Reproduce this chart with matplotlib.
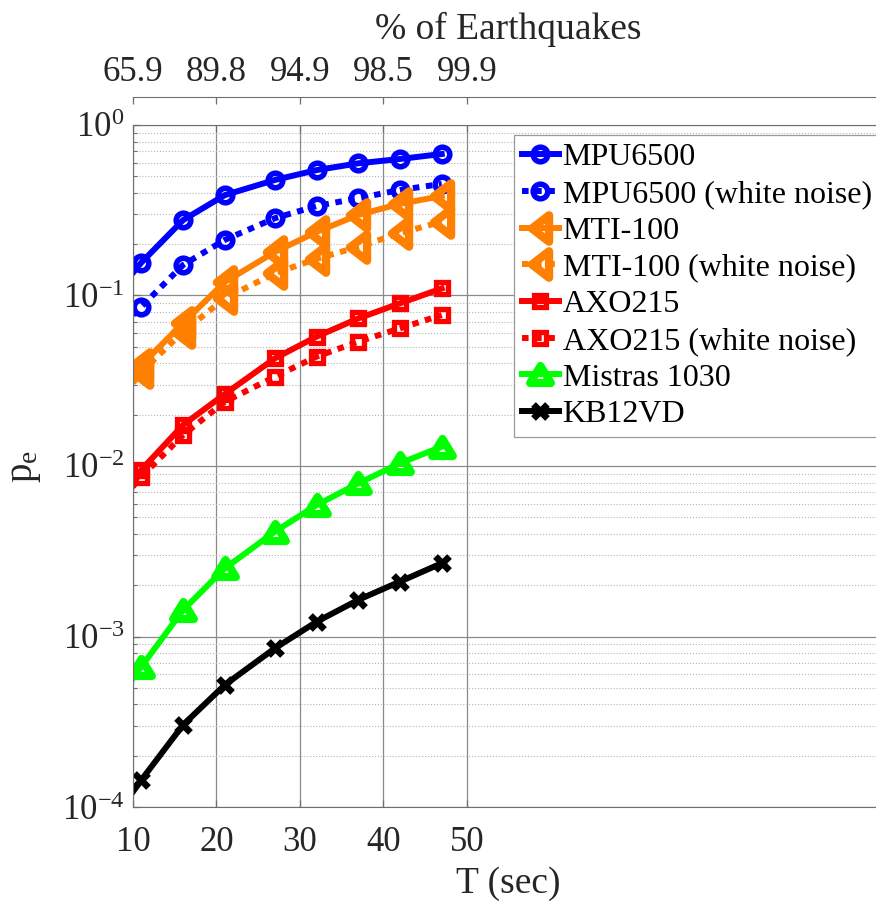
import matplotlib
matplotlib.use("Agg")
from matplotlib import pyplot as plt
from matplotlib.path import Path
from matplotlib.ticker import FixedLocator, LogLocator, NullFormatter

plt.rcParams['font.family'] = ['Liberation Serif', 'DejaVu Serif']
plt.rcParams['mathtext.fontset'] = 'custom'
plt.rcParams['mathtext.rm'] = 'Liberation Serif'
plt.rcParams['mathtext.default'] = 'regular'
plt.rcParams['axes.unicode_minus'] = False

# data (first point at T=10 has no marker)
T = [10, 11, 16, 21, 27, 32, 37, 42, 47]
mpu = [0.136, 0.156, 0.277, 0.388, 0.476, 0.544, 0.596, 0.632, 0.676]
mpu_wn = [0.077, 0.086, 0.151, 0.212, 0.284, 0.335, 0.372, 0.416, 0.451]
mti = [0.0357, 0.0391, 0.069, 0.120, 0.180, 0.236, 0.297, 0.345, 0.383]
mti_wn = [0.0307, 0.0356, 0.0613, 0.0962, 0.135, 0.164, 0.193, 0.232, 0.271]
axo = [0.0077, 0.0095, 0.0174, 0.0264, 0.0428, 0.0574, 0.0734, 0.090, 0.110]
axo_wn = [0.0076, 0.00865, 0.0152, 0.0238, 0.0334, 0.0438, 0.0536, 0.0642, 0.0769]
mistras = [0.000569, 0.000665, 0.00143, 0.00251, 0.00412, 0.00590, 0.00791, 0.01038, 0.01298]
kb = [0.000123, 0.000144, 0.000303, 0.000520, 0.000853, 0.00122, 0.00164, 0.00210, 0.00269]

x_ticks = [10, 20, 30, 40, 50]
pct_labels = ["65.9", "89.8", "94.9", "98.5", "99.9"]

ORANGE = (1.0, 0.5, 0.0)
tri_left = Path([(-0.65, 0), (0.65, 1), (0.65, -1), (-0.65, 0)], closed=True)
tri_up = Path([(0, 0.82), (-1, -0.82), (1, -0.82), (0, 0.82)], closed=True)

W, H = 876, 907
fig = plt.figure(figsize=(W / 100, H / 100), dpi=100)
left, right, top, bottom = 133, 884, 125, 807
ax = fig.add_axes([left / W, 1 - bottom / H, (right - left) / W, (bottom - top) / H])

series = [
    (mpu, "MPU6500", 'b', '-', 'o', 10.5, 4.0),
    (mpu_wn, "MPU6500 (white noise)", 'b', 'dot', 'o', 10.5, 4.0),
    (mti, "MTI-100", ORANGE, '-', tri_left, 19, 6.0),
    (mti_wn, "MTI-100 (white noise)", ORANGE, 'dot', tri_left, 19, 6.0),
    (axo, "AXO215", 'r', '-', 's', 8, 3.8),
    (axo_wn, "AXO215 (white noise)", 'r', 'dot', 's', 8, 3.8),
    (mistras, "Mistras 1030", (0, 1, 0), '-', tri_up, 15, 5.8),
    (kb, "KB12VD", 'k', '-', 'x', 10, 4.8),
]
for vals, name, col, ls, mk, ms, mw in series:
    style = (0, (1.1, 1.1)) if ls == 'dot' else '-'
    ax.plot(T, vals, color=col, linestyle=style, lw=4.3, marker=mk,
            markersize=ms, mfc='none', mec=col, mew=mw,
            markevery=slice(1, None), label=name)

ax.set_yscale('log')
ax.set_ylim(1e-4, 1e0)
ax.set_xlim(10, 100)
ax.set_xticks(x_ticks)
ax.yaxis.set_minor_locator(LogLocator(base=10, subs=range(2, 10)))
ax.yaxis.set_minor_formatter(NullFormatter())
ax.grid(True, which='major', color='#8a8a8a', lw=0.9)
ax.grid(True, which='minor', axis='y', color='#b5b5b5', lw=0.8, linestyle=':')
ax.tick_params(which='both', direction='in', colors='#6e6e6e', labelcolor='#262626',
               labelsize=25, top=True)
ax.tick_params(which='major', length=5, width=0.9)
ax.tick_params(which='minor', length=3, width=0.8)
ax.tick_params(axis='x', pad=14)
ax.tick_params(axis='y', pad=6)
for s in ax.spines.values():
    s.set_color('#6e6e6e')
ax.set_xlabel("T (sec)", fontsize=27, color='#262626', labelpad=5)
ax.set_ylabel(r"$\mathregular{p_e}$", fontsize=28, color='#262626', labelpad=14)

# top axis with percentage of earthquakes
top2 = 97
ax2 = fig.add_axes([left / W, 1 - bottom / H, (right - left) / W, (bottom - top2) / H])
ax2.patch.set_alpha(0)
ax2.set_xlim(10, 100)
ax2.xaxis.set_ticks_position('top')
ax2.xaxis.set_label_position('top')
ax2.xaxis.set_major_locator(FixedLocator(x_ticks))
ax2.set_xticklabels(pct_labels)
ax2.set_yticks([])
for k in ['left', 'right', 'bottom']:
    ax2.spines[k].set_visible(False)
ax2.spines['top'].set_color('#6e6e6e')
ax2.tick_params(axis='x', direction='in', length=5, width=0.9, colors='#6e6e6e',
                labelcolor='#262626', labelsize=25, pad=6)
ax2.set_xlabel("% of Earthquakes", fontsize=27, color='#262626', labelpad=12)

leg = ax.legend(loc='upper left', bbox_to_anchor=(514 / W, 1 - 135 / H),
                bbox_transform=fig.transFigure, fontsize=23, fancybox=False,
                framealpha=1, edgecolor='#9a9a9a', borderpad=0.25,
                labelspacing=0.23, handlelength=1.15, handletextpad=0.12,
                borderaxespad=0)
leg.get_frame().set_linewidth(0.9)
leg.set_zorder(5)

fig.savefig("out.png", dpi=100)
